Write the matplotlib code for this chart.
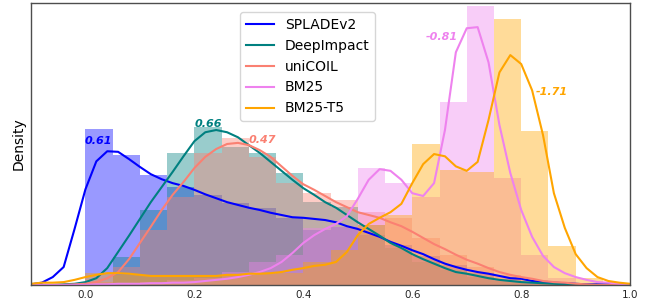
import numpy as np
import matplotlib
matplotlib.use("Agg")
import matplotlib.pyplot as plt

# histogram bins (width 0.05 from 0 to 1)
bin_edges = np.round(np.arange(0, 1.0, 0.05), 2)
kde_x = np.round(np.arange(-0.10, 1.001, 0.02), 2)

names = ["SPLADEv2", "DeepImpact", "uniCOIL", "BM25", "BM25-T5"]
colors = ["blue", "teal", "salmon", "violet", "orange"]
skew = ["0.61", "0.66", "0.47", "-0.81", "-1.71"]

splade_hist = [2.79, 2.32, 1.96, 1.75, 1.61, 1.46, 1.38, 1.20, 0.98, 1.04,
               0.89, 0.71, 0.52, 0.36, 0.21, 0.11, 0.05, 0.02, 0.01, 0.0]
deepimpact_hist = [0.04, 0.50, 1.34, 2.36, 2.82, 2.46, 2.36, 2.00, 1.48, 1.39,
                   1.07, 0.66, 0.41, 0.27, 0.14, 0.07, 0.04, 0.02, 0.0, 0.0]
unicoil_hist = [0.05, 0.32, 0.98, 1.57, 2.36, 2.62, 2.29, 1.82, 1.64, 1.52,
                1.30, 1.20, 0.84, 0.54, 0.32, 0.18, 0.09, 0.04, 0.02, 0.0]
bm25_hist = [0.04, 0.04, 0.05, 0.09, 0.12, 0.23, 0.41, 0.54, 1.02, 1.04,
             2.09, 1.82, 1.57, 3.27, 4.98, 1.91, 0.54, 0.12, 0.04, 0.02]
bm25t5_hist = [0.21, 0.18, 0.16, 0.16, 0.16, 0.18, 0.20, 0.21, 0.41, 0.62,
               1.07, 1.25, 2.52, 2.05, 2.02, 4.75, 2.75, 0.70, 0.12, 0.04]

splade_kde = [0.01, 0.04, 0.14, 0.32, 1.00, 1.71, 2.21, 2.39, 2.38, 2.25,
              2.11, 1.98, 1.89, 1.82, 1.77, 1.70, 1.62, 1.55, 1.48, 1.43,
              1.38, 1.34, 1.29, 1.25, 1.21, 1.20, 1.18, 1.16, 1.12, 1.05,
              1.00, 0.93, 0.86, 0.77, 0.70, 0.62, 0.55, 0.46, 0.38, 0.32,
              0.27, 0.23, 0.20, 0.16, 0.12, 0.11, 0.07, 0.05, 0.04, 0.03,
              0.02, 0.01, 0.01, 0.01, 0.01, 0.01]
deepimpact_kde = [0.0, 0.0, 0.0, 0.01, 0.02, 0.05, 0.12, 0.30, 0.59, 0.88,
                  1.18, 1.48, 1.75, 2.02, 2.30, 2.57, 2.73, 2.77, 2.73, 2.64,
                  2.50, 2.36, 2.20, 2.04, 1.88, 1.73, 1.61, 1.48, 1.38, 1.25,
                  1.12, 1.00, 0.88, 0.75, 0.66, 0.55, 0.46, 0.38, 0.30, 0.23,
                  0.20, 0.16, 0.12, 0.09, 0.07, 0.05, 0.04, 0.03, 0.02, 0.01,
                  0.0, 0.0, 0.0, 0.0, 0.0, 0.0]
unicoil_kde = [0.0, 0.0, 0.0, 0.0, 0.01, 0.02, 0.05, 0.12, 0.23, 0.46,
               0.75, 1.04, 1.34, 1.61, 1.84, 2.09, 2.29, 2.43, 2.52, 2.54,
               2.50, 2.41, 2.29, 2.12, 1.95, 1.80, 1.70, 1.59, 1.48, 1.39,
               1.30, 1.25, 1.20, 1.12, 1.05, 0.95, 0.84, 0.73, 0.64, 0.54,
               0.45, 0.38, 0.30, 0.23, 0.18, 0.14, 0.11, 0.07, 0.05, 0.04,
               0.02, 0.01, 0.0, 0.0, 0.0, 0.0]
bm25_kde = [0.0, 0.0, 0.0, 0.0, 0.0, 0.0, 0.01, 0.01, 0.02, 0.02,
            0.02, 0.03, 0.03, 0.04, 0.04, 0.05, 0.07, 0.09, 0.11, 0.14,
            0.18, 0.23, 0.30, 0.41, 0.57, 0.75, 0.89, 1.00, 1.09, 1.23,
            1.54, 1.88, 2.07, 2.04, 1.88, 1.64, 1.59, 1.82, 2.77, 4.16,
            4.59, 4.61, 3.98, 2.86, 2.00, 1.34, 0.86, 0.52, 0.32, 0.21,
            0.14, 0.09, 0.05, 0.04, 0.02, 0.01]
bm25t5_kde = [0.02, 0.04, 0.04, 0.05, 0.09, 0.14, 0.18, 0.21, 0.21, 0.20,
              0.18, 0.16, 0.16, 0.16, 0.16, 0.16, 0.16, 0.16, 0.18, 0.18,
              0.20, 0.20, 0.21, 0.23, 0.27, 0.30, 0.34, 0.36, 0.41, 0.59,
              0.89, 1.09, 1.20, 1.30, 1.45, 1.82, 2.16, 2.34, 2.30, 2.12,
              2.04, 2.20, 2.95, 3.80, 4.11, 3.95, 3.48, 2.68, 1.64, 1.02,
              0.55, 0.30, 0.14, 0.07, 0.04, 0.02]

hists = [splade_hist, deepimpact_hist, unicoil_hist, bm25_hist, bm25t5_hist]
kdes = [splade_kde, deepimpact_kde, unicoil_kde, bm25_kde, bm25t5_kde]

# where the skewness numbers sit (data coords)
skew_pos = [(0.024, 2.57), (0.225, 2.87), (0.325, 2.59), (0.655, 4.43), (0.857, 3.45)]

fig = plt.figure(figsize=(6.52, 3.08), dpi=100)
ax = fig.add_axes([0.0475, 0.075, 0.919, 0.915])

lines = []
for name, c, h, k in zip(names, colors, hists, kdes):
    ax.bar(bin_edges, h, width=0.05, align="edge", color=c, alpha=0.4,
           linewidth=0)
    ln, = ax.plot(kde_x, k, color=c, lw=1.5, label=name)
    lines.append(ln)

for s, c, (x, y) in zip(skew, colors, skew_pos):
    ax.text(x, y, s, color=c, fontsize=8, fontweight="bold", style="italic",
            ha="center", va="center")

ax.set_xlim(-0.1, 1.0)
ax.set_ylim(0, 5.04)
ax.set_yticks([])
ax.set_xticks([0.0, 0.2, 0.4, 0.6, 0.8, 1.0])
ax.tick_params(axis="x", length=0, labelsize=7.5, labelcolor="0.15", pad=4)
ax.set_ylabel("Density", fontsize=10, labelpad=3.5)
for sp in ax.spines.values():
    sp.set_color("0.3")
    sp.set_linewidth(1.0)

ax.legend(handles=lines, loc="upper center", bbox_to_anchor=(0.462, 0.968),
          borderaxespad=0, fontsize=10, frameon=True)

fig.savefig("out.png", dpi=100)
